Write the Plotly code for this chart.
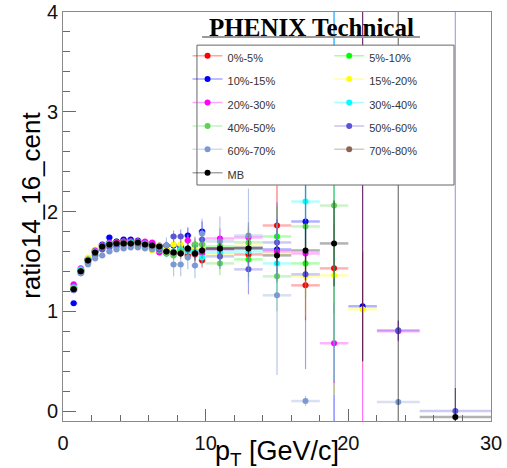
import plotly.graph_objects as go

# ---------------- data ----------------
pt = [0.75, 1.25, 1.75, 2.25, 2.75, 3.25, 3.75, 4.25, 4.75, 5.25, 5.75, 6.25, 6.75,
      7.25, 7.75, 8.25, 8.75, 9.25, 9.75, 11, 13, 15, 17, 19, 21, 23.5, 27.5]
pt_halfwidth = [0.25, 0.25, 0.25, 0.25, 0.25, 0.25, 0.25, 0.25, 0.25, 0.25, 0.25, 0.25, 0.25,
                0.25, 0.25, 0.25, 0.25, 0.25, 0.25, 1, 1, 1, 1, 1, 1, 1.5, 2.5]

cent_labels = ["0%-5%", "5%-10%", "10%-15%", "15%-20%", "20%-30%", "30%-40%",
               "40%-50%", "50%-60%", "60%-70%", "70%-80%", "MB"]
cent_colors = ["#ff0000", "#00ff00", "#0000ff", "#ffff00", "#ff00ff", "#00ffff",
               "#59d454", "#5954d8", "#7d99d1", "#8c6450", "#000000"]

ratio_0_5 = [1.24, 1.41, 1.52, 1.60, 1.66, 1.68, 1.69, 1.70, 1.69, 1.70, 1.68, 1.66, 1.63,
             1.60, 1.58, 1.64, 1.56, 1.57, 1.51, 1.63, 1.57, 1.86, 1.26, 1.43, None, None, None]
err_0_5 = [0.01, 0.01, 0.01, 0.01, 0.01, 0.01, 0.01, 0.01, 0.01, 0.01, 0.01, 0.01, 0.02,
           0.03, 0.04, 0.05, 0.05, 0.06, 0.07, 0.08, 0.15, 0.40, 0.35, 0.45, None, None, None]

ratio_5_10 = [1.23, 1.41, 1.53, 1.61, 1.66, 1.69, 1.70, 1.71, 1.70, 1.70, 1.69, 1.67, 1.64,
              1.62, 1.60, 1.62, 1.61, 1.66, 1.67, 1.65, 1.52, 1.75, 1.48, None, None, None, None]
err_5_10 = [0.01, 0.01, 0.01, 0.01, 0.01, 0.01, 0.01, 0.01, 0.01, 0.01, 0.01, 0.01, 0.02,
            0.03, 0.04, 0.05, 0.05, 0.06, 0.07, 0.10, 0.18, 0.30, 0.35, None, None, None, None]

ratio_10_15 = [1.08, 1.41, 1.52, 1.60, 1.67, 1.74, 1.70, 1.72, 1.72, 1.71, 1.69, 1.68, 1.66,
               1.66, 1.66, 1.65, 1.76, 1.60, 1.80, 1.62, 1.64, 1.62, 1.90, 2.40, 1.05, None, None]
err_10_15 = [0.01, 0.01, 0.01, 0.01, 0.01, 0.01, 0.01, 0.01, 0.01, 0.01, 0.01, 0.01, 0.02,
             0.03, 0.05, 0.06, 0.08, 0.08, 0.10, 0.12, 0.20, 0.30, 0.40, 2.60, 0.55, None, None]

ratio_15_20 = [1.25, 1.42, 1.54, 1.62, 1.66, 1.68, 1.69, 1.70, 1.70, 1.70, 1.69, 1.61, 1.66,
               1.62, 1.67, 1.67, 1.71, 1.62, 1.63, 1.57, 1.66, 1.58, 1.35, 1.36, 1.02, None, None]
err_15_20 = [0.01, 0.01, 0.01, 0.01, 0.01, 0.01, 0.01, 0.01, 0.01, 0.01, 0.01, 0.01, 0.02,
             0.03, 0.04, 0.05, 0.06, 0.06, 0.07, 0.10, 0.18, 0.30, 0.40, 1.20, 0.60, None, None]

ratio_20_30 = [1.27, 1.43, 1.52, 1.61, 1.66, 1.69, 1.69, 1.70, 1.70, 1.70, 1.70, 1.69, 1.59,
               1.58, 1.58, 1.62, 1.71, 1.67, 1.58, 1.73, 1.74, 1.60, 1.58, 0.68, 5.00, 0.80, None]
err_20_30 = [0.01, 0.01, 0.01, 0.01, 0.01, 0.01, 0.01, 0.01, 0.01, 0.01, 0.01, 0.01, 0.02,
             0.03, 0.04, 0.05, 0.06, 0.07, 0.08, 0.10, 0.15, 0.25, 0.35, 0.40, 6.00, 0.10, None]

ratio_30_40 = [1.24, 1.42, 1.52, 1.60, 1.65, 1.68, 1.66, 1.68, 1.69, 1.69, 1.68, 1.66, 1.63,
               1.58, 1.59, 1.62, 1.60, 1.60, 1.54, 1.59, 1.60, 1.48, 2.10, 2.50, None, None, None]
err_30_40 = [0.01, 0.01, 0.01, 0.01, 0.01, 0.01, 0.01, 0.01, 0.01, 0.01, 0.01, 0.01, 0.02,
             0.03, 0.04, 0.05, 0.06, 0.07, 0.08, 0.10, 0.18, 0.30, 0.45, 2.20, None, None, None]

ratio_40_50 = [1.23, 1.40, 1.50, 1.57, 1.63, 1.66, 1.67, 1.68, 1.68, 1.68, 1.66, 1.64, 1.61,
               1.58, 1.56, 1.60, 1.63, 1.67, 1.67, 1.48, 1.69, 1.35, 1.85, 2.06, None, None, None]
err_40_50 = [0.01, 0.01, 0.01, 0.01, 0.01, 0.01, 0.01, 0.01, 0.01, 0.01, 0.01, 0.01, 0.02,
             0.04, 0.05, 0.06, 0.07, 0.08, 0.09, 0.12, 0.20, 0.35, 0.45, 1.38, None, None, None]

ratio_50_60 = [1.21, 1.38, 1.49, 1.56, 1.62, 1.64, 1.65, 1.66, 1.67, 1.66, 1.65, 1.64, 1.62,
               1.66, 1.75, 1.75, 1.62, 1.58, 1.72, 1.55, 1.42, 1.69, 1.37, None, None, 0.81, 0.00]
err_50_60 = [0.01, 0.01, 0.01, 0.01, 0.01, 0.01, 0.01, 0.01, 0.01, 0.01, 0.01, 0.01, 0.02,
             0.04, 0.06, 0.07, 0.08, 0.09, 0.10, 0.13, 0.25, 0.40, 0.95, None, None, 0.10, 4.50]

ratio_60_70 = [1.21, 1.38, 1.47, 1.53, 1.56, 1.60, 1.62, 1.63, 1.64, 1.64, 1.63, 1.62, 1.64,
               1.66, 1.47, 1.47, 1.54, 1.46, 1.78, 1.70, 1.76, 1.16, 0.10, None, None, 0.09, None]
err_60_70 = [0.01, 0.01, 0.01, 0.01, 0.01, 0.01, 0.01, 0.01, 0.01, 0.01, 0.01, 0.01, 0.03,
             0.08, 0.12, 0.12, 0.12, 0.13, 0.15, 0.25, 0.47, 0.80, 0.05, None, None, 0.03, None]

ratio_70_80 = [1.22, 1.40, 1.51, 1.59, 1.64, 1.67, 1.68, 1.68, 1.68, 1.68, 1.67, 1.66, 1.65,
               1.60, 1.59, 1.58, 1.63, 1.58, 1.61, 1.63, 1.63, None, None, None, None, None, None]
err_70_80 = [0.01, 0.01, 0.01, 0.01, 0.01, 0.01, 0.01, 0.01, 0.01, 0.01, 0.01, 0.01, 0.01,
             0.03, 0.04, 0.05, 0.06, 0.07, 0.08, 0.10, 0.15, None, None, None, None, None, None]

ratio_mb = [1.22, 1.40, 1.51, 1.59, 1.65, 1.67, 1.68, 1.68, 1.68, 1.69, 1.67, 1.66, 1.65,
            1.60, 1.59, 1.58, 1.63, 1.58, 1.61, 1.63, 1.63, 1.56, 1.61, 1.68, 4.50, 5.00, -0.06]
err_mb = [0.005, 0.005, 0.005, 0.005, 0.005, 0.005, 0.005, 0.005, 0.005, 0.005, 0.005, 0.005, 0.005,
          0.02, 0.02, 0.03, 0.03, 0.04, 0.04, 0.05, 0.08, 0.10, 0.30, 0.43, 4.00, 6.00, 0.29]

series_values = [ratio_0_5, ratio_5_10, ratio_10_15, ratio_15_20, ratio_20_30, ratio_30_40,
                 ratio_40_50, ratio_50_60, ratio_60_70, ratio_70_80, ratio_mb]
series_errors = [err_0_5, err_5_10, err_10_15, err_15_20, err_20_30, err_30_40,
                 err_40_50, err_50_60, err_60_70, err_70_80, err_mb]

x_ticks = [0, 10, 20, 30]
y_ticks = [0, 1, 2, 3, 4]


def rgba(hexcol, a):
    h = hexcol.lstrip("#")
    r, g, b = int(h[0:2], 16), int(h[2:4], 16), int(h[4:6], 16)
    return f"rgba({r},{g},{b},{a})"


fig = go.Figure()

# data traces
for name, col, vals, errs in zip(cent_labels, cent_colors, series_values, series_errors):
    ex = [hw if v is not None else None for hw, v in zip(pt_halfwidth, vals)]
    fig.add_trace(go.Scatter(
        x=pt, y=vals, mode="markers", name=name, showlegend=False,
        marker=dict(color=col, size=6, line=dict(width=0)),
        error_y=dict(type="data", array=errs, visible=True, color=rgba(col, 0.55),
                     thickness=1.2, width=0),
        error_x=dict(type="data", array=ex, visible=True, color=rgba(col, 0.3),
                     thickness=2.5, width=0),
        cliponaxis=True,
    ))

# legend-only traces (line + marker symbol like ROOT legend), two columns
for i, (name, col) in enumerate(zip(cent_labels, cent_colors)):
    fig.add_trace(go.Scatter(
        x=[None], y=[None], mode="lines+markers",
        name=f'<span style="font-size:11px">{name}</span>',
        line=dict(color=rgba(col, 0.35), width=1.5),
        marker=dict(color=col, size=6),
        showlegend=True,
        legend="legend" if i % 2 == 0 else "legend2",
    ))

axis_common = dict(
    showgrid=False, zeroline=False, showline=True, linecolor="#8a8a8a", linewidth=1,
    mirror=True, ticks="inside", tickcolor="#6a6a6a", tickwidth=1,
    tickfont=dict(family="Liberation Sans, Arial, sans-serif", size=20, color="#111"),
)

fig.update_xaxes(range=[0, 30], tickvals=x_ticks, ticklen=12,
                 minor=dict(dtick=2, ticklen=6, ticks="inside", tickcolor="#6a6a6a"),
                 ticklabelstandoff=4, automargin=False, **axis_common)
fig.update_yaxes(range=[-0.1, 4.0], tickvals=y_ticks, ticklen=13,
                 minor=dict(dtick=0.2, ticklen=7, ticks="inside", tickcolor="#6a6a6a"),
                 ticklabelstandoff=0, automargin=False, **axis_common)

legend_common = dict(
    orientation="v", xanchor="left", yanchor="top",
    bgcolor="rgba(0,0,0,0)", borderwidth=0,
    font=dict(family="Liberation Sans, Arial, sans-serif", size=15.7, color="#333"),
    traceorder="normal", itemclick=False, itemdoubleclick=False,
)

fig.update_layout(
    width=507, height=468,
    margin=dict(l=63, r=16, t=12, b=47, autoexpand=False),
    paper_bgcolor="white", plot_bgcolor="white",
    showlegend=True,
    legend=dict(x=0.291, y=0.934, **legend_common),
    legend2=dict(x=0.622, y=0.934, **legend_common),
    annotations=[
        dict(text="<b>PHENIX Technical</b>", xref="paper", yref="paper",
             x=0.58, y=0.963, xanchor="center", yanchor="middle", showarrow=False,
             font=dict(family="Liberation Serif, DejaVu Serif, serif", size=25, color="black")),
        dict(text="p<sub>T</sub> [GeV/c]", xref="paper", yref="paper",
             x=0.5, y=-0.078, xanchor="center", yanchor="middle", showarrow=False,
             font=dict(family="Liberation Sans, Arial, sans-serif", size=27, color="black")),
        dict(text="ratio14_16_cent", xref="paper", yref="paper", textangle=-90,
             x=-0.074, y=0.527, xanchor="center", yanchor="middle", showarrow=False,
             font=dict(family="Liberation Sans, Arial, sans-serif", size=26, color="black")),
    ],
    shapes=[
        dict(type="line", xref="paper", yref="paper", x0=0.325, x1=0.834, y0=0.939, y1=0.939,
             line=dict(color="#999", width=2)),
        dict(type="rect", xref="paper", yref="paper", x0=0.313, x1=0.9136, y0=0.577, y1=0.919,
             fillcolor="white", line=dict(color="#666", width=1), layer="above"),
    ],
)

fig.write_html("out.html")
